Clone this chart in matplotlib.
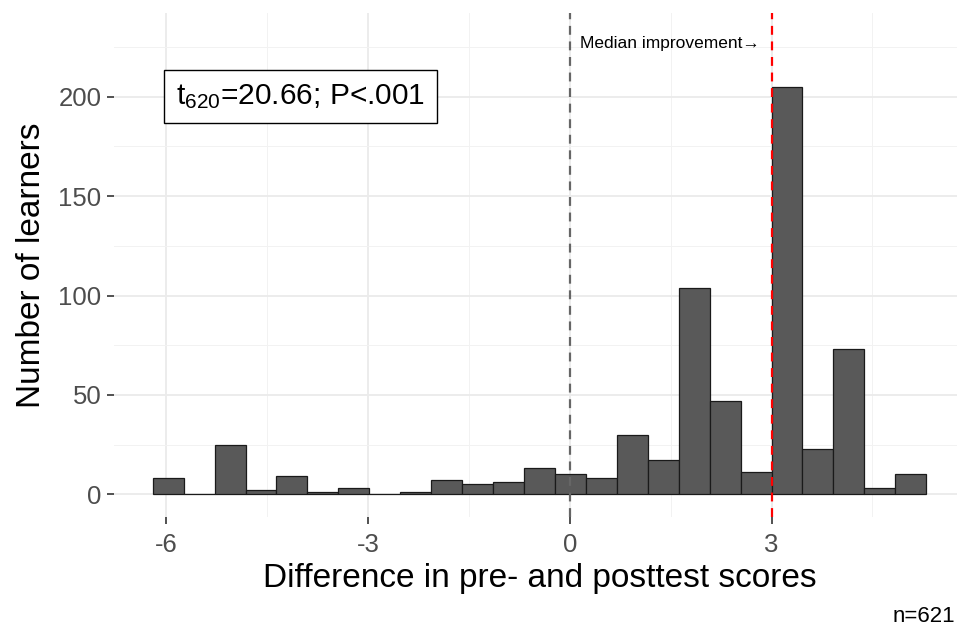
import numpy as np
import matplotlib.pyplot as plt
from matplotlib.ticker import MultipleLocator

plt.rcParams['font.family'] = ['Liberation Sans', 'DejaVu Sans']
plt.rcParams['axes.unicode_minus'] = False

# histogram of score differences (posttest - pretest), 25 bins
bin_start = -6.2
bin_width = 0.46
counts = [8, 0, 25, 2, 9, 1, 3, 0, 1, 7, 5, 6, 13, 10, 8, 30, 17, 104, 47, 11, 205, 23, 73, 3, 10]
median_diff = 3
n_learners = 621
stat_label = r'$\mathregular{t_{620}}$=20.66; P<.001'

x_ticks = [-6, -3, 0, 3]
y_ticks = [0, 50, 100, 150, 200]

fig = plt.figure(figsize=(9.57, 6.32), dpi=100)
ax = fig.add_axes([0.1191, 0.1824, 0.8892, 0.7965])

ax.set_axisbelow(True)
ax.xaxis.set_minor_locator(MultipleLocator(1.5))
ax.yaxis.set_minor_locator(MultipleLocator(25))
ax.grid(which='major', color='#EBEBEB', lw=1.3)
ax.grid(which='minor', color='#F2F2F2', lw=0.7)
for s in ax.spines.values():
    s.set_visible(False)

left_edges = bin_start + bin_width * np.arange(len(counts))
ax.bar(left_edges, counts, width=bin_width, align='edge',
       color='#595959', edgecolor='#1a1a1a', linewidth=0.9, zorder=2)

ax.axvline(0, color='#666666', lw=1.6, ls=(0, (4, 3)), zorder=3)
ax.axvline(median_diff, color='#FF0000', lw=1.6, ls=(0, (4, 3)), zorder=3)

ax.text(2.82, 227, 'Median improvement\u2192', ha='right', va='center',
        fontsize=12.5, color='black', zorder=4)

ax.text(-4.0, 200, stat_label, ha='center', va='center', fontsize=21.5, zorder=4,
        bbox=dict(boxstyle='square,pad=0.4', fc='white', ec='black', lw=1))

ax.set_xlim(-6.776, 5.875)
ax.set_ylim(-11.3, 242)
ax.set_xticks(x_ticks)
ax.set_yticks(y_ticks)
ax.tick_params(which='major', length=5, width=1.2, color='#333333',
               labelsize=18.5, labelcolor='#4D4D4D')
ax.tick_params(axis='x', pad=7)
ax.tick_params(axis='y', pad=4)
ax.tick_params(which='minor', length=0)

ax.set_xlabel('Difference in pre- and posttest scores', fontsize=24, labelpad=4)
ax.set_ylabel('Number of learners', fontsize=24, labelpad=8)

fig.text(955 / 957, 1 - 622 / 632, f'n={n_learners}', ha='right', va='baseline', fontsize=16)

fig.savefig('out.png', dpi=100)
